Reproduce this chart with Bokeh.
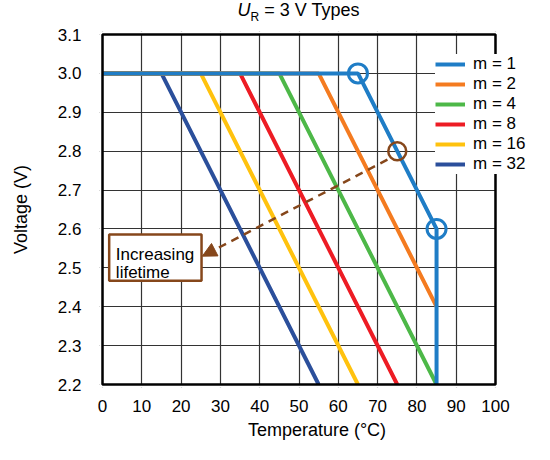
from bokeh.plotting import figure
from bokeh.layouts import column
from bokeh.models import (Range1d, FixedTicker, PrintfTickFormatter, Legend, LegendItem,
                          Label, BoxAnnotation, Arrow, NormalHead, Div)
from bokeh.embed import file_html
from bokeh.resources import INLINE

# ---- data ----
x_ticks = [0, 10, 20, 30, 40, 50, 60, 70, 80, 90, 100]
y_ticks = [2.2, 2.3, 2.4, 2.5, 2.6, 2.7, 2.8, 2.9, 3.0, 3.1]

series_names = ["m = 1", "m = 2", "m = 4", "m = 8", "m = 16", "m = 32"]
temp_m1 = [0, 65, 85, 85]
volt_m1 = [3.0, 3.0, 2.6, 2.2]
temp_m2 = [0, 55, 85]
volt_m2 = [3.0, 3.0, 2.4]
temp_m4 = [0, 45, 85]
volt_m4 = [3.0, 3.0, 2.2]
temp_m8 = [0, 35, 75]
volt_m8 = [3.0, 3.0, 2.2]
temp_m16 = [0, 25, 65]
volt_m16 = [3.0, 3.0, 2.2]
temp_m32 = [0, 15, 55]
volt_m32 = [3.0, 3.0, 2.2]

knee_temps = [65, 85]
knee_volts = [3.0, 2.6]
lifetime_temp = [75]
lifetime_volt = [2.8]

colors = ["#1f7dc6", "#f47b20", "#4db848", "#ed1c24", "#ffc20e", "#2b4f9b"]
brown = "#86471b"
FONT = "Liberation Sans"

X_MIN, X_MAX = 0, 100
Y_MIN, Y_MAX = 2.2, 3.1

# ---- layout geometry (pixels) ----
W = 534
TITLE_H = 27
H = 444 - TITLE_H          # figure height
PAD = 3                    # frame padding around data box
X0_PX, X100_PX = 102, 495  # where x=0 / x=100 land in the figure
YTOP_PX, YBOT_PX = 7, 357  # where y=3.1 / y=2.2 land in the figure
kx = (X100_PX - X0_PX) / (X_MAX - X_MIN)
ky = (YBOT_PX - YTOP_PX) / (Y_MAX - Y_MIN)

x_range = Range1d(X_MIN - PAD / kx, X_MIN + (W - X0_PX) / kx)
y_range = Range1d(Y_MIN - PAD / ky, Y_MAX + PAD / ky)

p = figure(width=W, height=H, output_backend="svg", toolbar_location=None,
           x_range=x_range, y_range=y_range, title=None,
           min_border_left=X0_PX - PAD, min_border_right=0,
           min_border_top=YTOP_PX - PAD, min_border_bottom=H - YBOT_PX - PAD)

p.outline_line_color = None
p.background_fill_color = "white"
p.border_fill_color = "white"

for ax in (p.xaxis[0], p.yaxis[0]):
    ax.axis_line_color = None
    ax.major_tick_line_color = None
    ax.minor_tick_line_color = None
    ax.major_label_text_font = FONT
    ax.major_label_text_font_size = "17px"
    ax.major_label_text_color = "black"
    ax.axis_label_text_font = FONT
    ax.axis_label_text_font_size = "18px"
    ax.axis_label_text_font_style = "normal"
    ax.axis_label_text_color = "black"

p.xaxis.ticker = FixedTicker(ticks=x_ticks)
p.yaxis.ticker = FixedTicker(ticks=y_ticks)
p.yaxis.formatter = PrintfTickFormatter(format="%.1f")
p.xaxis.axis_label = "Temperature (°C)"
p.yaxis.axis_label = "Voltage (V)"
p.xaxis.major_label_standoff = 6
p.yaxis.major_label_standoff = 12
p.xaxis.axis_label_standoff = 5
p.yaxis.axis_label_standoff = 24

p.xgrid.ticker = FixedTicker(ticks=x_ticks)
p.ygrid.ticker = FixedTicker(ticks=y_ticks)
for g in (p.xgrid[0], p.ygrid[0]):
    g.grid_line_color = "#333333"
    g.grid_line_width = 1.2

temps = [temp_m1, temp_m2, temp_m4, temp_m8, temp_m16, temp_m32]
volts = [volt_m1, volt_m2, volt_m4, volt_m8, volt_m16, volt_m32]

renderers = [None] * 6
for i in reversed(range(6)):
    renderers[i] = p.line(temps[i], volts[i], line_color=colors[i], line_width=4)

p.scatter(knee_temps, knee_volts, marker="circle", size=19, fill_color=None,
          line_color=colors[0], line_width=3)
p.scatter(lifetime_temp, lifetime_volt, marker="circle", size=18, fill_color=None,
          line_color=brown, line_width=2.5)

# white masks outside the data box, then the black frame of the data box
for kw in (dict(left=X_MAX), dict(right=X_MIN), dict(top=Y_MIN), dict(bottom=Y_MAX)):
    p.add_layout(BoxAnnotation(fill_color="white", fill_alpha=1.0, line_color=None, **kw))
p.add_layout(BoxAnnotation(left=X_MIN, right=X_MAX, bottom=Y_MIN, top=Y_MAX,
                           fill_alpha=0.0, line_color="black", line_width=2.5, line_alpha=1.0))

# arrow and label box
p.add_layout(Arrow(x_start=72.5, y_start=2.778, x_end=25.4, y_end=2.53,
                   line_color=brown, line_width=2.5, line_dash="8 6",
                   end=NormalHead(size=14, fill_color=brown, line_color=brown, line_width=1)))
p.add_layout(BoxAnnotation(left=1.7, right=25.2, top=2.586, bottom=2.467,
                           fill_color="white", fill_alpha=1.0,
                           line_color=brown, line_width=2.5, line_alpha=1.0))
p.add_layout(Label(x=3.4, y=2.535, text="Increasing", text_font=FONT,
                   text_font_size="17px", text_color="black", text_baseline="alphabetic"))
p.add_layout(Label(x=3.4, y=2.489, text="lifetime", text_font=FONT,
                   text_font_size="17px", text_color="black", text_baseline="alphabetic"))

# legend
legend = Legend(items=[LegendItem(label=series_names[i], renderers=[renderers[i]]) for i in range(6)],
                location=(435 - (X0_PX - PAD), (YBOT_PX + PAD) - (YTOP_PX - PAD) - 11 - 132),
                padding=6, margin=0, spacing=0,
                glyph_width=30, glyph_height=20, label_height=20, label_standoff=8,
                label_text_font=FONT, label_text_font_size="17px", label_text_color="black",
                background_fill_color="white", background_fill_alpha=1.0,
                border_line_color=None)
p.add_layout(legend)

# title with italic U and subscript R
title_html = (
    '<div style="margin:0 0 0 63px;width:471px;text-align:center;'
    'font-family:\'Liberation Sans\';font-size:18px;line-height:20px;color:black;">'
    '<i>U</i><span style="font-size:12px;position:relative;top:5px;">R</span>'
    ' = 3 V Types</div>'
)
title = Div(text=title_html, width=W, height=TITLE_H, margin=0)

layout = column(title, p, spacing=0)
open("out.html", "w").write(file_html(layout, INLINE))
